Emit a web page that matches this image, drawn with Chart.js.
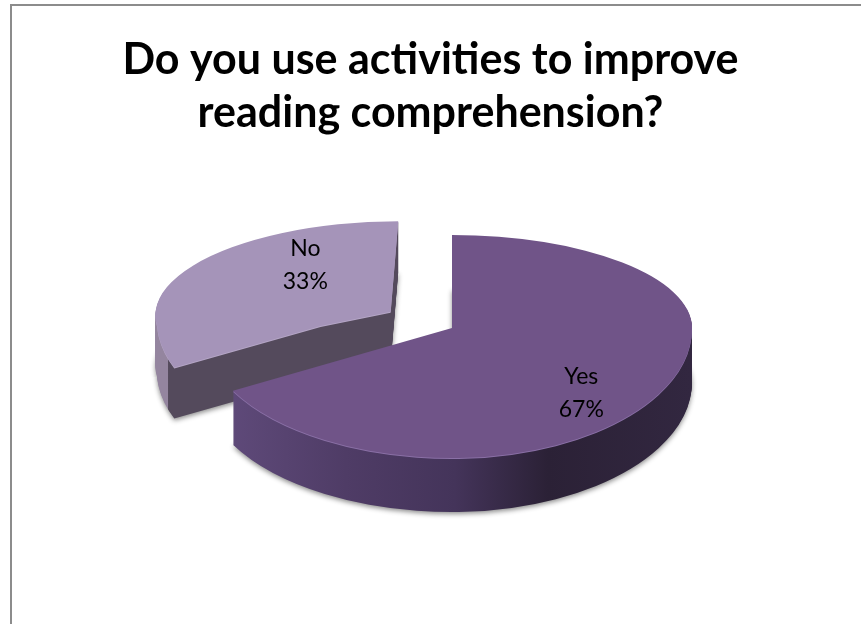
<!DOCTYPE html>
<html>
<head>
<meta charset="utf-8">
<title>Reading comprehension pie</title>
<script src="https://cdn.jsdelivr.net/npm/chart.js@4"></script>
<style>
  html, body { margin: 0; padding: 0; background: #fff; }
  #frame { position: absolute; left: 10px; top: 4px; width: 851px; height: 620px; box-sizing: border-box;
           border-left: 2px solid #8c8c8c; border-top: 2px solid #8c8c8c; }
  canvas { position: absolute; left: 0; top: 0; }
</style>
</head>
<body>
<div id="frame"></div>
<canvas id="pie" width="861" height="624"></canvas>
<script>
const titleLines = ['Do you use activities to improve', 'reading comprehension?'];
const categories = ['Yes', 'No'];
const shares = [67, 33];

// the exploded look and the 3d squash, in page pixels
const sliceColors = ['#705488', '#a594b9'];
const rimColors = ['#8a70a6', '#b5a6c6'];
const sliceOffsets = [0, 190];
const centre = { x: 452, y: 328 };
const sliceViews = [
  { rx: 240, rxLeft: 250, ryBack: 93, ryFront: 130, skewBack: 0, skewFront: 0, lift: 0, depth: 54 },
  { rx: 226, rxLeft: 226, ryBack: 87, ryFront: 125, skewBack: -0.1, skewFront: -0.2, lift: -2, depth: 51 }
];
const labelShift = [[26, 31], [90, -9]];

// side walls, stops are page x
const sideStops = [
  [[235, '#5f4a7a'], [350, '#4f3c66'], [455, '#44345a'], [548, '#2b2136'], [690, '#322740']],
  [[150, '#94859f'], [174, '#94859f'], [175, '#544a5c'], [391, '#544a5c'], [392, '#8a7d9a'], [402, '#8a7d9a']]
];

function drawSquashed(ctx, chart, arc, v, fill, dz) {
  const R = arc.outerRadius;
  const oy = centre.y + v.lift + dz;
  const keep = arc.options;
  arc.options = { ...keep, backgroundColor: fill };
  [[0, centre.x, v.rxLeft], [centre.x, chart.width - centre.x, v.rx]].forEach(([left, w, rx]) => {
    [[0, oy, v.ryBack, v.skewBack], [oy, chart.height - oy, v.ryFront, v.skewFront]].forEach(([top, h, ry, skew]) => {
      ctx.save();
      ctx.beginPath();
      ctx.rect(left, top, w, h);
      ctx.clip();
      ctx.translate(centre.x, oy);
      ctx.transform(1, 0, skew, 1, 0, 0);
      ctx.scale(rx / R, ry / R);
      ctx.translate(-arc.x, -arc.y);
      arc.draw(ctx);
      ctx.restore();
    });
  });
  arc.options = keep;
}

function sideGradient(ctx, arc, v, stops) {
  // arc.draw moves the slice by a quarter of its offset before it fills
  const mid = (arc.startAngle + arc.endAngle) / 2;
  const moved = Math.cos(mid) * arc.options.offset / 4;
  const toArc = x => arc.x + (x - centre.x) * arc.outerRadius / v.rx - moved;
  const first = stops[0][0], last = stops[stops.length - 1][0];
  const g = ctx.createLinearGradient(toArc(first), 0, toArc(last), 0);
  stops.forEach(([x, c]) => g.addColorStop((x - first) / (last - first), c));
  return g;
}

const squash3d = {
  id: 'squash3d',
  beforeDatasetsDraw(chart) {
    const ctx = chart.ctx;
    const arcs = chart.getDatasetMeta(0).data;
    // back slice first
    [1, 0].forEach(i => {
      const arc = arcs[i];
      const v = sliceViews[i];
      const side = sideGradient(ctx, arc, v, sideStops[i]);
      ctx.save();
      ctx.shadowColor = 'rgba(0,0,0,0.45)';
      ctx.shadowBlur = 5;
      ctx.shadowOffsetY = 2;
      drawSquashed(ctx, chart, arc, v, side, v.depth);
      ctx.restore();
      for (let dz = v.depth - 1; dz >= 1; dz--) drawSquashed(ctx, chart, arc, v, side, dz);
      drawSquashed(ctx, chart, arc, v, rimColors[i], 1);
      drawSquashed(ctx, chart, arc, v, sliceColors[i], 0);
    });
    // labels sit on top of both slices
    ctx.save();
    ctx.font = '23px Lato';
    ctx.fillStyle = '#000';
    ctx.textAlign = 'center';
    ctx.textBaseline = 'middle';
    arcs.forEach((arc, i) => {
      const v = sliceViews[0];
      const c = arc.getCenterPoint();
      const dy = c.y - arc.y;
      const x = centre.x + (c.x - arc.x) * v.rx / arc.outerRadius + labelShift[i][0];
      const y = centre.y + dy * (dy < 0 ? v.ryBack : v.ryFront) / arc.outerRadius + labelShift[i][1];
      ctx.fillText(categories[i], x, y - 16);
      ctx.fillText(shares[i] + '%', x, y + 17);
    });
    ctx.restore();
    return false;
  }
};

new Chart(document.getElementById('pie'), {
  type: 'pie',
  data: {
    labels: categories,
    datasets: [{
      data: shares,
      backgroundColor: sliceColors,
      offset: sliceOffsets,
      borderWidth: 0
    }]
  },
  options: {
    responsive: false,
    animation: false,
    layout: { padding: { top: 34 } },
    plugins: {
      legend: { display: false },
      tooltip: { enabled: false },
      title: {
        display: true,
        text: titleLines,
        color: '#000',
        font: { family: 'Lato', size: 43, weight: 'bold', lineHeight: 1.23 },
        padding: { top: 0, bottom: 0 }
      }
    }
  },
  plugins: [squash3d]
});
</script>
</body>
</html>
